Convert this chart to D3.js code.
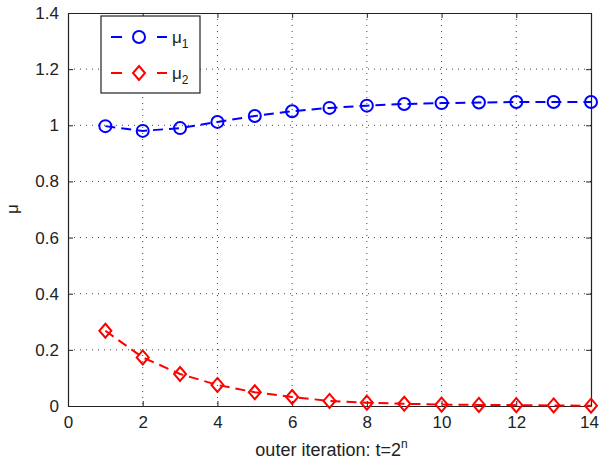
<!DOCTYPE html>
<html>
<head>
<meta charset="utf-8">
<script src="https://cdn.jsdelivr.net/npm/d3@7"></script>
<style>
body{margin:0;background:#fff;}
text{font-family:"Liberation Sans",Arial,sans-serif;}
</style>
</head>
<body>
<svg id="chart"></svg>
<script>
var iterations = [1,2,3,4,5,6,7,8,9,10,11,12,13,14]
var mu1 = [0.997,0.98,0.99,1.012,1.033,1.05,1.062,1.07,1.076,1.079,1.081,1.083,1.083,1.083]
var mu2 = [0.268,0.173,0.114,0.075,0.049,0.032,0.018,0.012,0.008,0.005,0.004,0.003,0.002,0.001]
var xTicks = [0,2,4,6,8,10,12,14]
var yTicks = [0,0.2,0.4,0.6,0.8,1,1.2,1.4]

var screen = {width:599, height:464}
var margins = {top:13, bottom:58, left:68, right:8}
var graph = {
    width:screen.width-margins.left-margins.right,
    height:screen.height-margins.top-margins.bottom
}

var svg = d3.select("#chart")
    .attr("width",screen.width)
    .attr("height",screen.height)

var xScale = d3.scaleLinear().domain([0,14]).range([0,graph.width])
var yScale = d3.scaleLinear().domain([0,1.4]).range([graph.height,0])

var g = svg.append("g")
    .attr("transform","translate("+margins.left+","+margins.top+")")

// dotted grid
g.append("g").selectAll("line")
    .data(xTicks.slice(1,-1))
    .enter().append("line")
    .attr("x1",function(d){return xScale(d)})
    .attr("x2",function(d){return xScale(d)})
    .attr("y1",0).attr("y2",graph.height)
    .attr("stroke","#444").attr("stroke-width",1)
    .attr("stroke-dasharray","1,5")
g.append("g").selectAll("line")
    .data(yTicks.slice(1,-1))
    .enter().append("line")
    .attr("y1",function(d){return yScale(d)})
    .attr("y2",function(d){return yScale(d)})
    .attr("x1",0).attr("x2",graph.width)
    .attr("stroke","#444").attr("stroke-width",1)
    .attr("stroke-dasharray","1,5")

// axes, ticks pointing inwards like matlab
var fmt = function(d){return d3.format("~g")(d)}
var xAxis = g.append("g")
    .attr("transform","translate(0,"+graph.height+")")
    .call(d3.axisBottom(xScale).tickValues(xTicks).tickFormat(fmt).tickSizeInner(-5).tickSizeOuter(0).tickPadding(10))
g.append("g")
    .call(d3.axisLeft(yScale).tickValues(yTicks).tickFormat(fmt).tickSizeInner(-5).tickSizeOuter(0).tickPadding(9))
g.append("g")
    .call(d3.axisTop(xScale).tickValues(xTicks).tickFormat("").tickSizeInner(-5).tickSizeOuter(0))
g.append("g")
    .attr("transform","translate("+graph.width+",0)")
    .call(d3.axisRight(yScale).tickValues(yTicks).tickFormat("").tickSizeInner(-5).tickSizeOuter(0))
g.selectAll(".domain").attr("stroke","#222").attr("stroke-width",1.2)
g.selectAll(".tick line").attr("stroke","#222")
g.selectAll(".tick text").attr("font-size",17).attr("fill","#222")
    .style("font-family","'Liberation Sans',Arial,sans-serif")
// last label sits at the window edge, keep it inside
xAxis.selectAll(".tick text").filter(function(d){return d==14}).attr("dx",-2)

// series
var line = d3.line()
    .x(function(d){return xScale(d[0])})
    .y(function(d){return yScale(d[1])})

var drawSeries = function(vals,color,shape)
{
    var pts = iterations.map(function(x,i){return [x,vals[i]]})
    g.append("path")
        .datum(pts)
        .attr("d",line)
        .attr("fill","none")
        .attr("stroke",color)
        .attr("stroke-width",2)
        .attr("stroke-dasharray","10,6")
    g.append("g").selectAll("path")
        .data(pts)
        .enter().append("path")
        .attr("transform",function(d){return "translate("+xScale(d[0])+","+yScale(d[1])+")"})
        .attr("d",shape)
        .attr("fill","none")
        .attr("stroke",color)
        .attr("stroke-width",2)
}
var circle = "M6,0A6,6 0 1,1 -6,0A6,6 0 1,1 6,0Z"
var diamond = "M0,-7L6,0L0,7L-6,0Z"
drawSeries(mu1,"#0000ff",circle)
drawSeries(mu2,"#ff0000",diamond)

// legend
var legend = svg.append("g").attr("transform","translate(101,16)")
legend.append("rect")
    .attr("width",99).attr("height",77)
    .attr("fill","#fff").attr("stroke","#222").attr("stroke-width",1.2)
var items = [{c:"#0000ff",s:circle,sub:"1"},{c:"#ff0000",s:diamond,sub:"2"}]
items.forEach(function(it,i){
    var row = legend.append("g").attr("transform","translate(0,"+(21+i*36)+")")
    row.append("line").attr("x1",10).attr("x2",66)
        .attr("stroke",it.c).attr("stroke-width",2).attr("stroke-dasharray","11,35")
    row.append("path").attr("d",it.s).attr("transform","translate(38,0)")
        .attr("fill","none").attr("stroke",it.c).attr("stroke-width",2)
    var t = row.append("text").attr("x",71).attr("y",6).attr("font-size",17).attr("fill","#222")
    t.append("tspan").text("μ")
    t.append("tspan").attr("font-size",12).attr("dy",5).text(it.sub)
})

// labels
svg.append("text")
    .attr("x",margins.left+graph.width/2+2).attr("y",456)
    .attr("text-anchor","middle").attr("font-size",18).attr("fill","#222")
    .call(function(t){
        t.append("tspan").text("outer iteration: t=2")
        t.append("tspan").attr("font-size",12).attr("dy",-8).text("n")
    })
svg.append("text")
    .attr("transform","translate(18,209) rotate(-90)")
    .attr("text-anchor","middle").attr("font-size",17).attr("fill","#222")
    .text("μ")
</script>
</body>
</html>
